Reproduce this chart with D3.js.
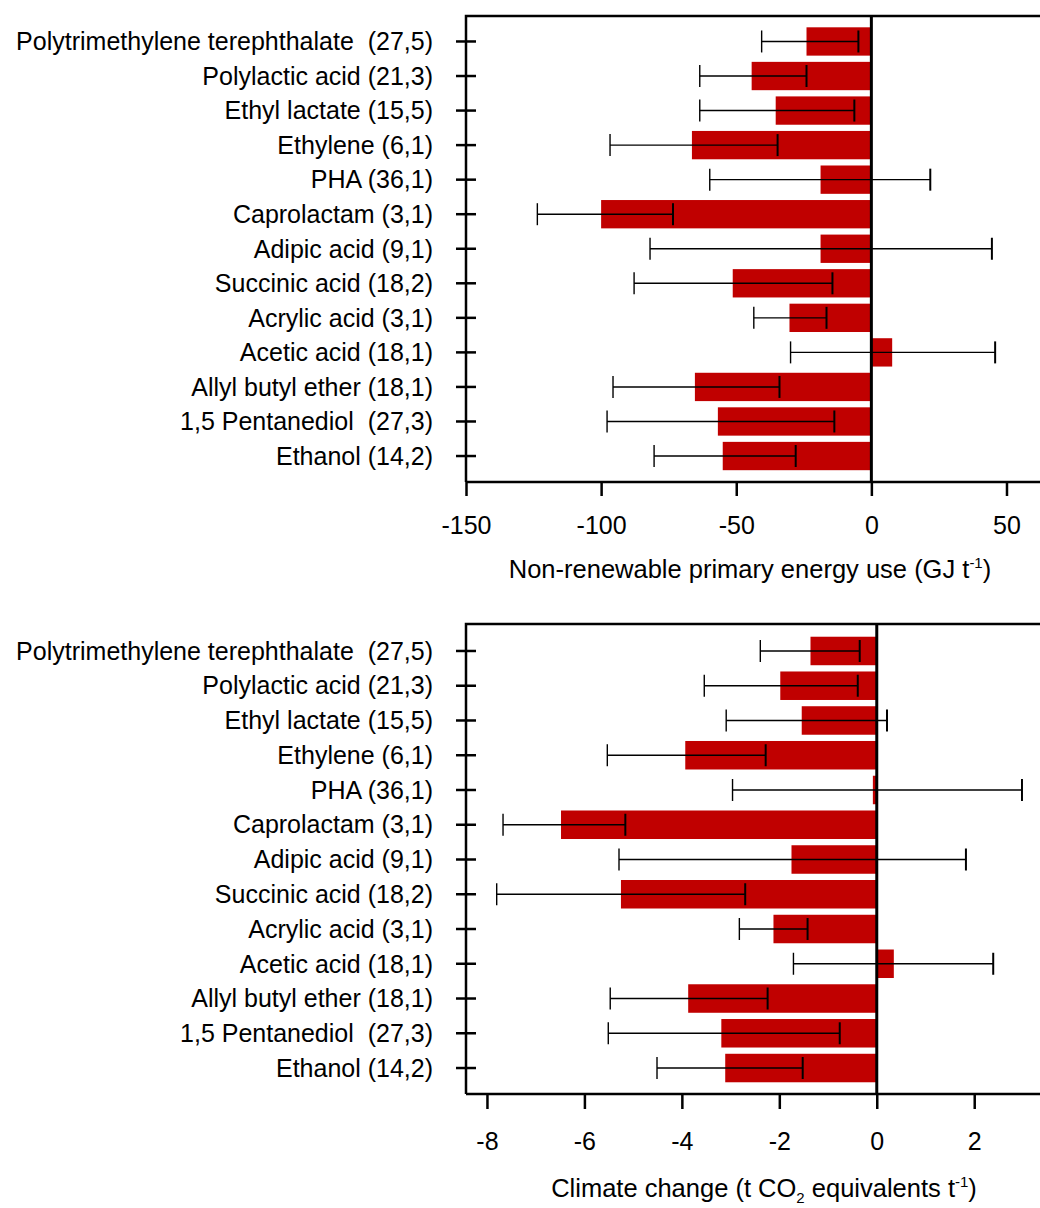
<!DOCTYPE html>
<html>
<head>
<meta charset="utf-8">
<script src="https://cdn.jsdelivr.net/npm/d3@7"></script>
<style>
  body { margin: 0; background: #fff; }
  svg { display: block; font-family: "Liberation Sans", Arial, sans-serif; }
</style>
</head>
<body>
<div id="chart"></div>
<script>
// categories, top to bottom
const categories = [
  "Polytrimethylene terephthalate\u00a0\u00a0(27,5)",
  "Polylactic acid (21,3)",
  "Ethyl lactate (15,5)",
  "Ethylene (6,1)",
  "PHA (36,1)",
  "Caprolactam (3,1)",
  "Adipic acid (9,1)",
  "Succinic acid (18,2)",
  "Acrylic acid (3,1)",
  "Acetic acid (18,1)",
  "Allyl butyl ether (18,1)",
  "1,5 Pentanediol\u00a0\u00a0(27,3)",
  "Ethanol (14,2)"
];

// Non-renewable primary energy use (GJ/t)
const energyValue = [-24, -44.3, -35.4, -66.4, -18.8, -100, -18.8, -51.3, -30.3, 7.7, -65.3, -56.8, -55];
const energyLow   = [-40.6, -63.5, -63.5, -96.7, -59.8, -123.6, -81.9, -87.8, -43.5, -29.9, -95.6, -97.8, -80.4];
const energyHigh  = [-4.8, -24, -6.3, -34.7, 21.8, -73.4, 44.6, -14.4, -16.6, 45.8, -34, -13.7, -28];
const energyTicks = [-150, -100, -50, 0, 50];

// Climate change (t CO2 eq/t)
const climateValue = [-1.36, -1.98, -1.54, -3.93, -0.08, -6.48, -1.75, -5.25, -2.12, 0.35, -3.87, -3.19, -3.11];
const climateLow   = [-2.39, -3.54, -3.09, -5.53, -2.96, -7.67, -5.29, -7.8, -2.82, -1.71, -5.47, -5.51, -4.51];
const climateHigh  = [-0.35, -0.39, 0.21, -2.28, 2.98, -5.16, 1.83, -2.7, -1.42, 2.39, -2.24, -0.76, -1.52];
const climateTicks = [-8, -6, -4, -2, 0, 2];

const W = 1040, H = 1208;
const svg = d3.select("#chart").append("svg")
  .attr("width", W)
  .attr("height", H);

function drawPanel(p) {
  const g = svg.append("g");
  const x = d3.scaleLinear().domain(p.domain).range([466, W]);
  const y = d3.scaleBand().domain(categories).range(p.band).paddingInner(0.18).paddingOuter(0.09);

  const rows = categories.map((c, i) => ({ c, v: p.value[i], lo: p.low[i], hi: p.high[i] }));

  // bars
  g.selectAll("rect.bar").data(rows).enter().append("rect")
    .attr("class", "bar")
    .attr("x", d => x(Math.min(0, d.v)))
    .attr("width", d => Math.abs(x(d.v) - x(0)))
    .attr("y", d => y(d.c))
    .attr("height", y.bandwidth())
    .attr("fill", "#c00000");

  // error bars
  const err = g.selectAll("g.err").data(rows).enter().append("g")
    .attr("class", "err")
    .attr("transform", d => `translate(0,${y(d.c) + y.bandwidth() / 2})`)
    .attr("stroke", "#000")
    .attr("stroke-width", 1.4);
  err.append("line").attr("x1", d => x(d.lo)).attr("x2", d => x(d.hi));
  err.append("line").attr("x1", d => x(d.lo)).attr("x2", d => x(d.lo)).attr("y1", -11).attr("y2", 11);
  err.append("line").attr("x1", d => x(d.hi)).attr("x2", d => x(d.hi)).attr("y1", -11).attr("y2", 11)
    .attr("stroke-width", 2);

  // zero line
  g.append("line")
    .attr("x1", x(0)).attr("x2", x(0))
    .attr("y1", p.top).attr("y2", p.bottom)
    .attr("stroke", "#000").attr("stroke-width", 3);

  // frame: top and left
  g.append("path")
    .attr("d", `M${W},${p.top}H466V${p.bottom}`)
    .attr("fill", "none").attr("stroke", "#000").attr("stroke-width", 2.5);

  // x axis
  const xAxis = g.append("g")
    .attr("transform", `translate(0,${p.bottom})`)
    .call(d3.axisBottom(x).tickValues(p.ticks).tickSize(p.tickLen).tickPadding(p.tickPad));
  xAxis.select(".domain").attr("stroke-width", 2.5).attr("d", `M466,0H${W}`);
  xAxis.selectAll(".tick line").attr("stroke-width", 2.5);
  xAxis.selectAll(".tick text")
    .attr("font-size", 25)
    .attr("font-family", "Liberation Sans, Arial, sans-serif")
    .text(d => d < 0 ? "-" + Math.abs(d) : d);

  // y axis (crossing ticks)
  const yAxis = g.append("g");
  yAxis.selectAll("line").data(categories).enter().append("line")
    .attr("x1", 456).attr("x2", 476)
    .attr("y1", d => y(d) + y.bandwidth() / 2)
    .attr("y2", d => y(d) + y.bandwidth() / 2)
    .attr("stroke", "#000").attr("stroke-width", 2.5);
  yAxis.selectAll("text").data(categories).enter().append("text")
    .attr("x", 433)
    .attr("y", d => y(d) + y.bandwidth() / 2)
    .attr("dy", "0.35em")
    .attr("text-anchor", "end")
    .attr("font-size", 25)
    .text(d => d);

  // axis title
  const t = g.append("text")
    .attr("x", p.titleX).attr("y", p.titleY)
    .attr("text-anchor", "middle")
    .attr("font-size", 25.5);
  p.title.forEach(part => {
    const ts = t.append("tspan").text(part.s);
    if (part.sup) ts.attr("font-size", 15).attr("dy", -10);
    if (part.sub) ts.attr("font-size", 15).attr("dy", 6);
    if (part.back) ts.attr("dy", part.back);
  });
}

drawPanel({
  domain: [-150, 62.4], band: [24.2, 473.3], top: 16, bottom: 482,
  value: energyValue, low: energyLow, high: energyHigh, ticks: energyTicks,
  tickLen: 14, tickPad: 20,
  titleX: 750, titleY: 578,
  title: [
    { s: "Non-renewable primary energy use (GJ t" },
    { s: "-1", sup: true },
    { s: ")", back: 10 }
  ]
});

drawPanel({
  domain: [-8.43, 3.35], band: [633.6, 1085.4], top: 624, bottom: 1094,
  value: climateValue, low: climateLow, high: climateHigh, ticks: climateTicks,
  tickLen: 15, tickPad: 23,
  titleX: 764, titleY: 1197,
  title: [
    { s: "Climate change (t CO" },
    { s: "2", sub: true },
    { s: " equivalents t", back: -6 },
    { s: "-1", sup: true },
    { s: ")", back: 10 }
  ]
});
</script>
</body>
</html>
